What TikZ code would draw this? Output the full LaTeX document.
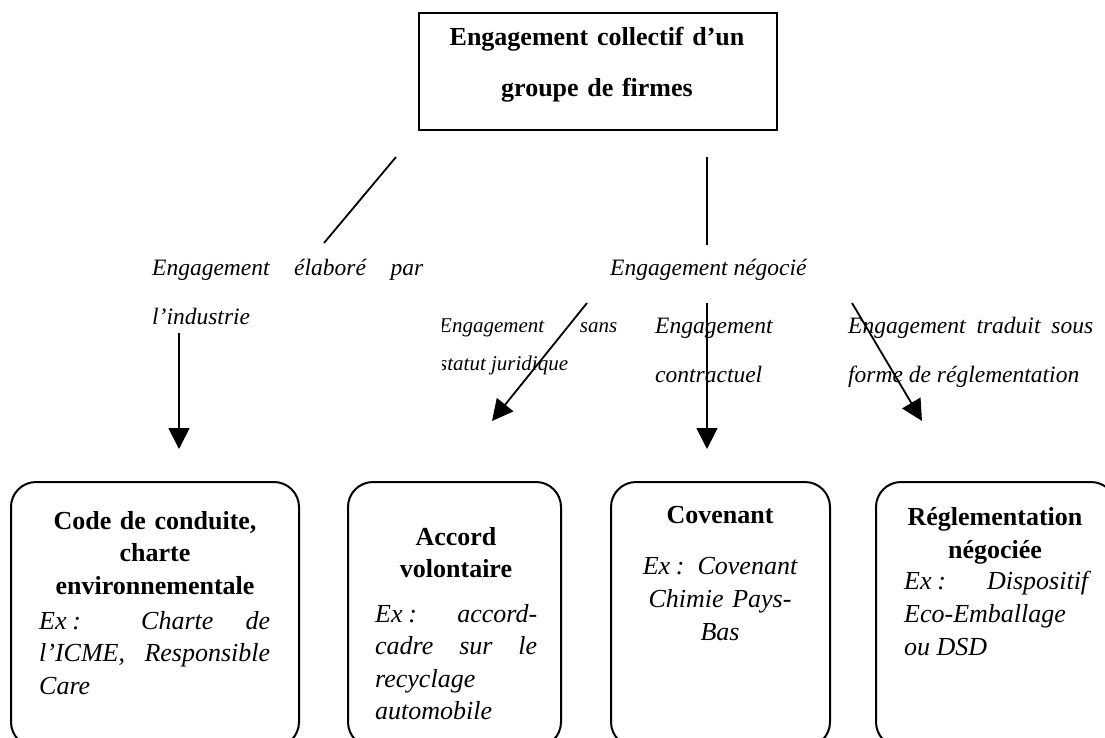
\documentclass[tikz,border=0pt]{standalone}
\usepackage{fontspec}
\setmainfont{Liberation Serif}
\usetikzlibrary{arrows.meta}

% "Ex :" with a tight space before the colon
\newcommand\exmark{Ex\hspace{0.22em}:}

\begin{document}
\begin{tikzpicture}[x=1pt, y=-1pt,
  frame/.style={draw, line width=2pt, inner sep=0pt, anchor=north west},
  card/.style={draw, line width=2pt, rounded corners=25pt, inner sep=0pt, anchor=north west},
  link/.style={line width=1.8pt},
  arrowlink/.style={line width=1.8pt, -{Triangle[length=21pt,width=21pt]}},
  headtext/.style={font=\fontsize{26}{32.5}\selectfont\bfseries, align=center, inner sep=0pt, anchor=base},
  extext/.style={font=\fontsize{26}{32.5}\selectfont\itshape, align=justify, inner sep=0pt, anchor=base west},
  branchtext/.style={font=\fontsize{23.5}{49}\selectfont\itshape, align=justify, inner sep=0pt, anchor=base west},
  smallbranch/.style={font=\fontsize{21}{38}\selectfont\itshape, align=justify, inner sep=0pt, anchor=base west},
]
\useasboundingbox (0,0) rectangle (1105,737);
\fill[white] (0,0) rectangle (1105,737);
\clip (0,0) rectangle (1105,737);

% top box
\node[frame, minimum width=358pt, minimum height=117pt] (top) at (418,12) {};
\node[headtext, text width=340pt, font=\fontsize{26}{51}\selectfont\bfseries] (toptext) at (597,45)
  {Engagement collectif d'un\\groupe de firmes};

% branch labels
\node[branchtext, text width=271pt] (lind) at (152,275) {Engagement élaboré par\linebreak l'industrie};
\node[branchtext, text width=220pt] (lneg) at (610,275) {Engagement négocié};
\begin{scope}
  % this label sits in a frame whose left edge trims the first letters
  \clip (442,290) rectangle (640,390);
  \node[smallbranch, text width=178pt] (lsans) at (439,332) {Engagement sans\linebreak statut juridique};
\end{scope}
\node[branchtext, text width=160pt] (lcont) at (655,333) {Engagement\\contractuel};
\node[branchtext, text width=245pt] (ltrad) at (848,333) {Engagement traduit sous\linebreak forme de réglementation};

% connector ends
\coordinate (d1s) at (396,157);
\coordinate (d1e) at (324,243);
\coordinate (v1s) at (707,157);
\coordinate (v1e) at (707,245);
\coordinate (a1s) at (179,333);
\coordinate (a1e) at (179,449);
\coordinate (a2s) at (587,303);
\coordinate (a2e) at (492,421);
\coordinate (a3s) at (707,303);
\coordinate (a3e) at (707,449);
\coordinate (a4s) at (852,303);
\coordinate (a4e) at (922,421);

\draw[link] (d1s) -- (d1e);
\draw[link] (v1s) -- (v1e);
\draw[arrowlink] (a1s) -- (a1e);
\draw[arrowlink] (a2s) -- (a2e);
\draw[arrowlink] (a3s) -- (a3e);
\draw[arrowlink] (a4s) -- (a4e);

% bottom cards
\node[card, minimum width=288pt, minimum height=265pt] (b1) at (10,481) {};
\node[card, minimum width=213pt, minimum height=265pt] (b2) at (347,481) {};
\node[card, minimum width=219pt, minimum height=265pt] (b3) at (610,481) {};
\node[card, minimum width=240pt, minimum height=265pt] (b4) at (875,481) {};

% card 1
\node[headtext, text width=270pt] (t1) at (155,529) {Code de conduite,\\charte\\environnementale};
\node[extext, text width=231pt] (e1) at (39,629) {\exmark{} Charte de\linebreak l'ICME, Responsible\linebreak Care};

% card 2
\node[headtext, text width=200pt] (t2) at (456,545) {Accord\\volontaire};
\node[extext, text width=162pt] (e2) at (375,622) {\exmark{} accord-\linebreak cadre sur le\linebreak recyclage\\automobile};

% card 3
\node[headtext, text width=200pt] (t3) at (720,523) {Covenant};
\node[headtext, text width=200pt, font=\fontsize{26}{33}\selectfont\itshape] (e3) at (720,574)
  {\exmark{} Covenant\\Chimie Pays-\\Bas};

% card 4
\node[headtext, text width=220pt, font=\fontsize{26}{33}\selectfont\bfseries] (t4) at (995,525) {Réglementation\\négociée};
\node[extext, text width=184pt, font=\fontsize{26}{33}\selectfont\itshape] (e4) at (904,589.5)
  {\exmark{} Dispositif\linebreak Eco-Emballage\\ou DSD};
\end{tikzpicture}
\end{document}
